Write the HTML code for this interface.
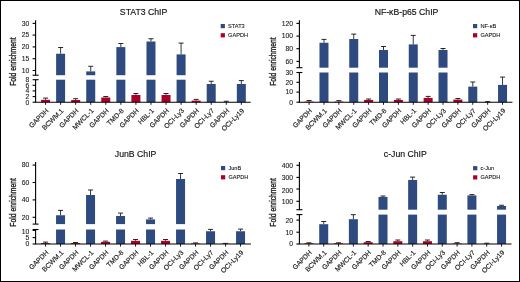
<!DOCTYPE html>
<html><head><meta charset="utf-8"><style>
html,body{margin:0;padding:0;background:#fff;}
svg{display:block;}
text{font-family:"Liberation Sans", sans-serif;fill:#1a1a1a;}
svg{will-change:transform;}
</style></head><body>
<svg width="520" height="282" viewBox="0 0 520 282">
<rect x="0" y="0" width="520" height="282" fill="#fff"/>
<line x1="45.55" y1="98.1" x2="45.55" y2="99.8" stroke="#222" stroke-width="0.9"/>
<line x1="43.05" y1="98.1" x2="48.05" y2="98.1" stroke="#111" stroke-width="0.9"/>
<rect x="41.05" y="99.8" width="9" height="2.4" fill="#a8002a"/>
<line x1="60.61" y1="47.5" x2="60.61" y2="53.75" stroke="#222" stroke-width="0.9"/>
<line x1="58.11" y1="47.5" x2="63.11" y2="47.5" stroke="#111" stroke-width="0.9"/>
<rect x="56.11" y="79.7" width="9" height="22.5" fill="#2e4a7e"/>
<rect x="56.11" y="53.75" width="9" height="21.45" fill="#2e4a7e"/>
<line x1="75.67" y1="98.7" x2="75.67" y2="100" stroke="#222" stroke-width="0.9"/>
<line x1="73.17" y1="98.7" x2="78.17" y2="98.7" stroke="#111" stroke-width="0.9"/>
<rect x="71.17" y="100" width="9" height="2.2" fill="#a8002a"/>
<line x1="90.73" y1="66.3" x2="90.73" y2="71.4" stroke="#222" stroke-width="0.9"/>
<line x1="88.23" y1="66.3" x2="93.23" y2="66.3" stroke="#111" stroke-width="0.9"/>
<rect x="86.23" y="79.7" width="9" height="22.5" fill="#2e4a7e"/>
<rect x="86.23" y="71.4" width="9" height="3.8" fill="#2e4a7e"/>
<line x1="105.79" y1="96.5" x2="105.79" y2="97.5" stroke="#222" stroke-width="0.9"/>
<line x1="103.29" y1="96.5" x2="108.29" y2="96.5" stroke="#111" stroke-width="0.9"/>
<rect x="101.29" y="97.5" width="9" height="4.7" fill="#a8002a"/>
<line x1="120.85" y1="43.5" x2="120.85" y2="47.1" stroke="#222" stroke-width="0.9"/>
<line x1="118.35" y1="43.5" x2="123.35" y2="43.5" stroke="#111" stroke-width="0.9"/>
<rect x="116.35" y="79.7" width="9" height="22.5" fill="#2e4a7e"/>
<rect x="116.35" y="47.1" width="9" height="28.1" fill="#2e4a7e"/>
<line x1="135.91" y1="93.5" x2="135.91" y2="95" stroke="#222" stroke-width="0.9"/>
<line x1="133.41" y1="93.5" x2="138.41" y2="93.5" stroke="#111" stroke-width="0.9"/>
<rect x="131.41" y="95" width="9" height="7.2" fill="#a8002a"/>
<line x1="150.97" y1="38.75" x2="150.97" y2="41.5" stroke="#222" stroke-width="0.9"/>
<line x1="148.47" y1="38.75" x2="153.47" y2="38.75" stroke="#111" stroke-width="0.9"/>
<rect x="146.47" y="79.7" width="9" height="22.5" fill="#2e4a7e"/>
<rect x="146.47" y="41.5" width="9" height="33.7" fill="#2e4a7e"/>
<line x1="166.03" y1="93.5" x2="166.03" y2="95" stroke="#222" stroke-width="0.9"/>
<line x1="163.53" y1="93.5" x2="168.53" y2="93.5" stroke="#111" stroke-width="0.9"/>
<rect x="161.53" y="95" width="9" height="7.2" fill="#a8002a"/>
<line x1="181.09" y1="43.1" x2="181.09" y2="54.4" stroke="#222" stroke-width="0.9"/>
<line x1="178.59" y1="43.1" x2="183.59" y2="43.1" stroke="#111" stroke-width="0.9"/>
<rect x="176.59" y="79.7" width="9" height="22.5" fill="#2e4a7e"/>
<rect x="176.59" y="54.4" width="9" height="20.8" fill="#2e4a7e"/>
<line x1="196.15" y1="99.4" x2="196.15" y2="100.6" stroke="#222" stroke-width="0.9"/>
<line x1="193.65" y1="99.4" x2="198.65" y2="99.4" stroke="#111" stroke-width="0.9"/>
<rect x="191.65" y="100.6" width="9" height="1.6" fill="#a8002a"/>
<line x1="211.21" y1="81.25" x2="211.21" y2="84" stroke="#222" stroke-width="0.9"/>
<line x1="208.71" y1="81.25" x2="213.71" y2="81.25" stroke="#111" stroke-width="0.9"/>
<rect x="206.71" y="84" width="9" height="18.2" fill="#2e4a7e"/>
<line x1="226.27" y1="101.25" x2="226.27" y2="102.2" stroke="#222" stroke-width="0.9"/>
<line x1="223.77" y1="101.25" x2="228.77" y2="101.25" stroke="#111" stroke-width="0.9"/>
<line x1="241.33" y1="80.6" x2="241.33" y2="84" stroke="#222" stroke-width="0.9"/>
<line x1="238.83" y1="80.6" x2="243.83" y2="80.6" stroke="#111" stroke-width="0.9"/>
<rect x="236.83" y="84" width="9" height="18.2" fill="#2e4a7e"/>
<line x1="35.6" y1="20.3" x2="35.6" y2="75.2" stroke="#000" stroke-width="1.1"/>
<line x1="35.6" y1="79.7" x2="35.6" y2="102.2" stroke="#000" stroke-width="1.1"/>
<line x1="32.6" y1="75.2" x2="38.6" y2="75.2" stroke="#000" stroke-width="1.1"/>
<line x1="32.6" y1="79.7" x2="38.6" y2="79.7" stroke="#000" stroke-width="1.1"/>
<line x1="35.05" y1="102.2" x2="250.6" y2="102.2" stroke="#000" stroke-width="1.1"/>
<line x1="32.6" y1="23.4" x2="35.6" y2="23.4" stroke="#000" stroke-width="1.1"/>
<line x1="32.6" y1="35.1" x2="35.6" y2="35.1" stroke="#000" stroke-width="1.1"/>
<line x1="32.6" y1="46.9" x2="35.6" y2="46.9" stroke="#000" stroke-width="1.1"/>
<line x1="32.6" y1="58.7" x2="35.6" y2="58.7" stroke="#000" stroke-width="1.1"/>
<line x1="32.6" y1="70.5" x2="35.6" y2="70.5" stroke="#000" stroke-width="1.1"/>
<line x1="32.6" y1="85.3" x2="35.6" y2="85.3" stroke="#000" stroke-width="1.1"/>
<line x1="32.6" y1="90.9" x2="35.6" y2="90.9" stroke="#000" stroke-width="1.1"/>
<line x1="32.6" y1="96.6" x2="35.6" y2="96.6" stroke="#000" stroke-width="1.1"/>
<line x1="32.6" y1="102.2" x2="35.6" y2="102.2" stroke="#000" stroke-width="1.1"/>
<text transform="translate(29.2 25.7) scale(1.06 1)" font-size="6.4" stroke="#1a1a1a" stroke-width="0.1" text-anchor="end">30</text>
<text transform="translate(29.2 37.4) scale(1.06 1)" font-size="6.4" stroke="#1a1a1a" stroke-width="0.1" text-anchor="end">25</text>
<text transform="translate(29.2 49.2) scale(1.06 1)" font-size="6.4" stroke="#1a1a1a" stroke-width="0.1" text-anchor="end">20</text>
<text transform="translate(29.2 61) scale(1.06 1)" font-size="6.4" stroke="#1a1a1a" stroke-width="0.1" text-anchor="end">15</text>
<text transform="translate(29.2 72.8) scale(1.06 1)" font-size="6.4" stroke="#1a1a1a" stroke-width="0.1" text-anchor="end">10</text>
<text transform="translate(29.2 87.6) scale(1.06 1)" font-size="6.4" stroke="#1a1a1a" stroke-width="0.1" text-anchor="end">6</text>
<text transform="translate(29.2 93.2) scale(1.06 1)" font-size="6.4" stroke="#1a1a1a" stroke-width="0.1" text-anchor="end">4</text>
<text transform="translate(29.2 98.9) scale(1.06 1)" font-size="6.4" stroke="#1a1a1a" stroke-width="0.1" text-anchor="end">2</text>
<text transform="translate(29.2 104.5) scale(1.06 1)" font-size="6.4" stroke="#1a1a1a" stroke-width="0.1" text-anchor="end">0</text>
<text transform="translate(29.2 82) scale(1.06 1)" font-size="6.4" stroke="#1a1a1a" stroke-width="0.1" text-anchor="end">8</text>
<line x1="45.55" y1="102.2" x2="45.55" y2="104.8" stroke="#000" stroke-width="0.9"/>
<text x="48.95" y="111.2" font-size="6.8" stroke="#1a1a1a" stroke-width="0.15" text-anchor="end" transform="rotate(-45 48.95 111.2)">GAPDH</text>
<line x1="60.61" y1="102.2" x2="60.61" y2="104.8" stroke="#000" stroke-width="0.9"/>
<text x="64.01" y="111.2" font-size="6.8" stroke="#1a1a1a" stroke-width="0.15" text-anchor="end" transform="rotate(-45 64.01 111.2)">BCWM.1</text>
<line x1="75.67" y1="102.2" x2="75.67" y2="104.8" stroke="#000" stroke-width="0.9"/>
<text x="79.07" y="111.2" font-size="6.8" stroke="#1a1a1a" stroke-width="0.15" text-anchor="end" transform="rotate(-45 79.07 111.2)">GAPDH</text>
<line x1="90.73" y1="102.2" x2="90.73" y2="104.8" stroke="#000" stroke-width="0.9"/>
<text x="94.13" y="111.2" font-size="6.8" stroke="#1a1a1a" stroke-width="0.15" text-anchor="end" transform="rotate(-45 94.13 111.2)">MWCL-1</text>
<line x1="105.79" y1="102.2" x2="105.79" y2="104.8" stroke="#000" stroke-width="0.9"/>
<text x="109.19" y="111.2" font-size="6.8" stroke="#1a1a1a" stroke-width="0.15" text-anchor="end" transform="rotate(-45 109.19 111.2)">GAPDH</text>
<line x1="120.85" y1="102.2" x2="120.85" y2="104.8" stroke="#000" stroke-width="0.9"/>
<text x="124.25" y="111.2" font-size="6.8" stroke="#1a1a1a" stroke-width="0.15" text-anchor="end" transform="rotate(-45 124.25 111.2)">TMD-8</text>
<line x1="135.91" y1="102.2" x2="135.91" y2="104.8" stroke="#000" stroke-width="0.9"/>
<text x="139.31" y="111.2" font-size="6.8" stroke="#1a1a1a" stroke-width="0.15" text-anchor="end" transform="rotate(-45 139.31 111.2)">GAPDH</text>
<line x1="150.97" y1="102.2" x2="150.97" y2="104.8" stroke="#000" stroke-width="0.9"/>
<text x="154.37" y="111.2" font-size="6.8" stroke="#1a1a1a" stroke-width="0.15" text-anchor="end" transform="rotate(-45 154.37 111.2)">HBL-1</text>
<line x1="166.03" y1="102.2" x2="166.03" y2="104.8" stroke="#000" stroke-width="0.9"/>
<text x="169.43" y="111.2" font-size="6.8" stroke="#1a1a1a" stroke-width="0.15" text-anchor="end" transform="rotate(-45 169.43 111.2)">GAPDH</text>
<line x1="181.09" y1="102.2" x2="181.09" y2="104.8" stroke="#000" stroke-width="0.9"/>
<text x="184.49" y="111.2" font-size="6.8" stroke="#1a1a1a" stroke-width="0.15" text-anchor="end" transform="rotate(-45 184.49 111.2)">OCI-Ly3</text>
<line x1="196.15" y1="102.2" x2="196.15" y2="104.8" stroke="#000" stroke-width="0.9"/>
<text x="199.55" y="111.2" font-size="6.8" stroke="#1a1a1a" stroke-width="0.15" text-anchor="end" transform="rotate(-45 199.55 111.2)">GAPDH</text>
<line x1="211.21" y1="102.2" x2="211.21" y2="104.8" stroke="#000" stroke-width="0.9"/>
<text x="214.61" y="111.2" font-size="6.8" stroke="#1a1a1a" stroke-width="0.15" text-anchor="end" transform="rotate(-45 214.61 111.2)">OCI-Ly7</text>
<line x1="226.27" y1="102.2" x2="226.27" y2="104.8" stroke="#000" stroke-width="0.9"/>
<text x="229.67" y="111.2" font-size="6.8" stroke="#1a1a1a" stroke-width="0.15" text-anchor="end" transform="rotate(-45 229.67 111.2)">GAPDH</text>
<line x1="241.33" y1="102.2" x2="241.33" y2="104.8" stroke="#000" stroke-width="0.9"/>
<text x="244.73" y="111.2" font-size="6.8" stroke="#1a1a1a" stroke-width="0.15" text-anchor="end" transform="rotate(-45 244.73 111.2)">OCI-Ly19</text>
<text x="143.6" y="15.2" font-size="8.7" text-anchor="middle" fill="#000" stroke="#000" stroke-width="0.15">STAT3 ChIP</text>
<rect x="220.7" y="24" width="4.2" height="4.2" fill="#2e4a7e"/>
<rect x="220.7" y="33.2" width="4.2" height="4.2" fill="#a8002a"/>
<text x="228.1" y="28.1" font-size="5.6" stroke="#1a1a1a" stroke-width="0.1">STAT3</text>
<text x="228.1" y="37.3" font-size="5.6" stroke="#1a1a1a" stroke-width="0.1">GAPDH</text>
<text x="15.74" y="61.6" font-size="9.0" stroke="#1a1a1a" stroke-width="0.35" text-anchor="middle" textLength="48.5" lengthAdjust="spacingAndGlyphs" transform="rotate(-90 15.74 61.6)">Fold enrichment</text>
<line x1="309.1" y1="100.5" x2="309.1" y2="101.6" stroke="#222" stroke-width="0.9"/>
<line x1="306.6" y1="100.5" x2="311.6" y2="100.5" stroke="#111" stroke-width="0.9"/>
<rect x="304.6" y="101.6" width="9" height="0.6" fill="#a8002a"/>
<line x1="323.98" y1="39.4" x2="323.98" y2="42.75" stroke="#222" stroke-width="0.9"/>
<line x1="321.48" y1="39.4" x2="326.48" y2="39.4" stroke="#111" stroke-width="0.9"/>
<rect x="319.48" y="72.5" width="9" height="29.7" fill="#2e4a7e"/>
<rect x="319.48" y="42.75" width="9" height="24.95" fill="#2e4a7e"/>
<line x1="338.86" y1="100.6" x2="338.86" y2="101.6" stroke="#222" stroke-width="0.9"/>
<line x1="336.36" y1="100.6" x2="341.36" y2="100.6" stroke="#111" stroke-width="0.9"/>
<rect x="334.36" y="101.6" width="9" height="0.6" fill="#a8002a"/>
<line x1="353.74" y1="34.1" x2="353.74" y2="39" stroke="#222" stroke-width="0.9"/>
<line x1="351.24" y1="34.1" x2="356.24" y2="34.1" stroke="#111" stroke-width="0.9"/>
<rect x="349.24" y="72.5" width="9" height="29.7" fill="#2e4a7e"/>
<rect x="349.24" y="39" width="9" height="28.7" fill="#2e4a7e"/>
<line x1="368.62" y1="99" x2="368.62" y2="99.9" stroke="#222" stroke-width="0.9"/>
<line x1="366.12" y1="99" x2="371.12" y2="99" stroke="#111" stroke-width="0.9"/>
<rect x="364.12" y="99.9" width="9" height="2.3" fill="#a8002a"/>
<line x1="383.5" y1="46.5" x2="383.5" y2="50" stroke="#222" stroke-width="0.9"/>
<line x1="381" y1="46.5" x2="386" y2="46.5" stroke="#111" stroke-width="0.9"/>
<rect x="379" y="72.5" width="9" height="29.7" fill="#2e4a7e"/>
<rect x="379" y="50" width="9" height="17.7" fill="#2e4a7e"/>
<line x1="398.38" y1="99" x2="398.38" y2="99.9" stroke="#222" stroke-width="0.9"/>
<line x1="395.88" y1="99" x2="400.88" y2="99" stroke="#111" stroke-width="0.9"/>
<rect x="393.88" y="99.9" width="9" height="2.3" fill="#a8002a"/>
<line x1="413.26" y1="35.4" x2="413.26" y2="44.4" stroke="#222" stroke-width="0.9"/>
<line x1="410.76" y1="35.4" x2="415.76" y2="35.4" stroke="#111" stroke-width="0.9"/>
<rect x="408.76" y="72.5" width="9" height="29.7" fill="#2e4a7e"/>
<rect x="408.76" y="44.4" width="9" height="23.3" fill="#2e4a7e"/>
<line x1="428.14" y1="96.4" x2="428.14" y2="97.9" stroke="#222" stroke-width="0.9"/>
<line x1="425.64" y1="96.4" x2="430.64" y2="96.4" stroke="#111" stroke-width="0.9"/>
<rect x="423.64" y="97.9" width="9" height="4.3" fill="#a8002a"/>
<line x1="443.02" y1="48.5" x2="443.02" y2="50" stroke="#222" stroke-width="0.9"/>
<line x1="440.52" y1="48.5" x2="445.52" y2="48.5" stroke="#111" stroke-width="0.9"/>
<rect x="438.52" y="72.5" width="9" height="29.7" fill="#2e4a7e"/>
<rect x="438.52" y="50" width="9" height="17.7" fill="#2e4a7e"/>
<line x1="457.9" y1="98.5" x2="457.9" y2="99.6" stroke="#222" stroke-width="0.9"/>
<line x1="455.4" y1="98.5" x2="460.4" y2="98.5" stroke="#111" stroke-width="0.9"/>
<rect x="453.4" y="99.6" width="9" height="2.6" fill="#a8002a"/>
<line x1="472.78" y1="82" x2="472.78" y2="86.6" stroke="#222" stroke-width="0.9"/>
<line x1="470.28" y1="82" x2="475.28" y2="82" stroke="#111" stroke-width="0.9"/>
<rect x="468.28" y="86.6" width="9" height="15.6" fill="#2e4a7e"/>
<line x1="487.66" y1="101.6" x2="487.66" y2="102.1" stroke="#222" stroke-width="0.9"/>
<line x1="485.16" y1="101.6" x2="490.16" y2="101.6" stroke="#111" stroke-width="0.9"/>
<rect x="483.16" y="102.1" width="9" height="0.1" fill="#a8002a"/>
<line x1="502.54" y1="77.1" x2="502.54" y2="84.9" stroke="#222" stroke-width="0.9"/>
<line x1="500.04" y1="77.1" x2="505.04" y2="77.1" stroke="#111" stroke-width="0.9"/>
<rect x="498.04" y="84.9" width="9" height="17.3" fill="#2e4a7e"/>
<line x1="299.4" y1="20.3" x2="299.4" y2="67.7" stroke="#000" stroke-width="1.1"/>
<line x1="299.4" y1="72.5" x2="299.4" y2="102.2" stroke="#000" stroke-width="1.1"/>
<line x1="296.4" y1="67.7" x2="302.4" y2="67.7" stroke="#000" stroke-width="1.1"/>
<line x1="296.4" y1="72.5" x2="302.4" y2="72.5" stroke="#000" stroke-width="1.1"/>
<line x1="298.85" y1="102.2" x2="512.4" y2="102.2" stroke="#000" stroke-width="1.1"/>
<line x1="296.4" y1="23.4" x2="299.4" y2="23.4" stroke="#000" stroke-width="1.1"/>
<line x1="296.4" y1="36.1" x2="299.4" y2="36.1" stroke="#000" stroke-width="1.1"/>
<line x1="296.4" y1="48.7" x2="299.4" y2="48.7" stroke="#000" stroke-width="1.1"/>
<line x1="296.4" y1="61.4" x2="299.4" y2="61.4" stroke="#000" stroke-width="1.1"/>
<line x1="296.4" y1="82.3" x2="299.4" y2="82.3" stroke="#000" stroke-width="1.1"/>
<line x1="296.4" y1="92.1" x2="299.4" y2="92.1" stroke="#000" stroke-width="1.1"/>
<line x1="296.4" y1="102.2" x2="299.4" y2="102.2" stroke="#000" stroke-width="1.1"/>
<text transform="translate(293 25.7) scale(1.06 1)" font-size="6.4" stroke="#1a1a1a" stroke-width="0.1" text-anchor="end">120</text>
<text transform="translate(293 38.4) scale(1.06 1)" font-size="6.4" stroke="#1a1a1a" stroke-width="0.1" text-anchor="end">100</text>
<text transform="translate(293 51) scale(1.06 1)" font-size="6.4" stroke="#1a1a1a" stroke-width="0.1" text-anchor="end">80</text>
<text transform="translate(293 63.7) scale(1.06 1)" font-size="6.4" stroke="#1a1a1a" stroke-width="0.1" text-anchor="end">60</text>
<text transform="translate(293 84.6) scale(1.06 1)" font-size="6.4" stroke="#1a1a1a" stroke-width="0.1" text-anchor="end">20</text>
<text transform="translate(293 94.4) scale(1.06 1)" font-size="6.4" stroke="#1a1a1a" stroke-width="0.1" text-anchor="end">10</text>
<text transform="translate(293 104.5) scale(1.06 1)" font-size="6.4" stroke="#1a1a1a" stroke-width="0.1" text-anchor="end">0</text>
<text transform="translate(293 74.8) scale(1.06 1)" font-size="6.4" stroke="#1a1a1a" stroke-width="0.1" text-anchor="end">30</text>
<line x1="309.1" y1="102.2" x2="309.1" y2="104.8" stroke="#000" stroke-width="0.9"/>
<text x="312.5" y="111.2" font-size="6.8" stroke="#1a1a1a" stroke-width="0.15" text-anchor="end" transform="rotate(-45 312.5 111.2)">GAPDH</text>
<line x1="323.98" y1="102.2" x2="323.98" y2="104.8" stroke="#000" stroke-width="0.9"/>
<text x="327.38" y="111.2" font-size="6.8" stroke="#1a1a1a" stroke-width="0.15" text-anchor="end" transform="rotate(-45 327.38 111.2)">BCWM.1</text>
<line x1="338.86" y1="102.2" x2="338.86" y2="104.8" stroke="#000" stroke-width="0.9"/>
<text x="342.26" y="111.2" font-size="6.8" stroke="#1a1a1a" stroke-width="0.15" text-anchor="end" transform="rotate(-45 342.26 111.2)">GAPDH</text>
<line x1="353.74" y1="102.2" x2="353.74" y2="104.8" stroke="#000" stroke-width="0.9"/>
<text x="357.14" y="111.2" font-size="6.8" stroke="#1a1a1a" stroke-width="0.15" text-anchor="end" transform="rotate(-45 357.14 111.2)">MWCL-1</text>
<line x1="368.62" y1="102.2" x2="368.62" y2="104.8" stroke="#000" stroke-width="0.9"/>
<text x="372.02" y="111.2" font-size="6.8" stroke="#1a1a1a" stroke-width="0.15" text-anchor="end" transform="rotate(-45 372.02 111.2)">GAPDH</text>
<line x1="383.5" y1="102.2" x2="383.5" y2="104.8" stroke="#000" stroke-width="0.9"/>
<text x="386.9" y="111.2" font-size="6.8" stroke="#1a1a1a" stroke-width="0.15" text-anchor="end" transform="rotate(-45 386.9 111.2)">TMD-8</text>
<line x1="398.38" y1="102.2" x2="398.38" y2="104.8" stroke="#000" stroke-width="0.9"/>
<text x="401.78" y="111.2" font-size="6.8" stroke="#1a1a1a" stroke-width="0.15" text-anchor="end" transform="rotate(-45 401.78 111.2)">GAPDH</text>
<line x1="413.26" y1="102.2" x2="413.26" y2="104.8" stroke="#000" stroke-width="0.9"/>
<text x="416.66" y="111.2" font-size="6.8" stroke="#1a1a1a" stroke-width="0.15" text-anchor="end" transform="rotate(-45 416.66 111.2)">HBL-1</text>
<line x1="428.14" y1="102.2" x2="428.14" y2="104.8" stroke="#000" stroke-width="0.9"/>
<text x="431.54" y="111.2" font-size="6.8" stroke="#1a1a1a" stroke-width="0.15" text-anchor="end" transform="rotate(-45 431.54 111.2)">GAPDH</text>
<line x1="443.02" y1="102.2" x2="443.02" y2="104.8" stroke="#000" stroke-width="0.9"/>
<text x="446.42" y="111.2" font-size="6.8" stroke="#1a1a1a" stroke-width="0.15" text-anchor="end" transform="rotate(-45 446.42 111.2)">OCI-Ly3</text>
<line x1="457.9" y1="102.2" x2="457.9" y2="104.8" stroke="#000" stroke-width="0.9"/>
<text x="461.3" y="111.2" font-size="6.8" stroke="#1a1a1a" stroke-width="0.15" text-anchor="end" transform="rotate(-45 461.3 111.2)">GAPDH</text>
<line x1="472.78" y1="102.2" x2="472.78" y2="104.8" stroke="#000" stroke-width="0.9"/>
<text x="476.18" y="111.2" font-size="6.8" stroke="#1a1a1a" stroke-width="0.15" text-anchor="end" transform="rotate(-45 476.18 111.2)">OCI-Ly7</text>
<line x1="487.66" y1="102.2" x2="487.66" y2="104.8" stroke="#000" stroke-width="0.9"/>
<text x="491.06" y="111.2" font-size="6.8" stroke="#1a1a1a" stroke-width="0.15" text-anchor="end" transform="rotate(-45 491.06 111.2)">GAPDH</text>
<line x1="502.54" y1="102.2" x2="502.54" y2="104.8" stroke="#000" stroke-width="0.9"/>
<text x="505.94" y="111.2" font-size="6.8" stroke="#1a1a1a" stroke-width="0.15" text-anchor="end" transform="rotate(-45 505.94 111.2)">OCI-Ly19</text>
<text x="406.5" y="15.2" font-size="8.7" text-anchor="middle" fill="#000" stroke="#000" stroke-width="0.15">NF-κB-p65 ChIP</text>
<rect x="473" y="24" width="4.2" height="4.2" fill="#2e4a7e"/>
<rect x="473" y="33.2" width="4.2" height="4.2" fill="#a8002a"/>
<text x="480.4" y="28.1" font-size="5.6" stroke="#1a1a1a" stroke-width="0.1">NF-κB</text>
<text x="480.4" y="37.3" font-size="5.6" stroke="#1a1a1a" stroke-width="0.1">GAPDH</text>
<text x="275.74" y="61.6" font-size="9.0" stroke="#1a1a1a" stroke-width="0.35" text-anchor="middle" textLength="48.5" lengthAdjust="spacingAndGlyphs" transform="rotate(-90 275.74 61.6)">Fold enrichment</text>
<line x1="45.55" y1="242.1" x2="45.55" y2="243.1" stroke="#222" stroke-width="0.9"/>
<line x1="43.05" y1="242.1" x2="48.05" y2="242.1" stroke="#111" stroke-width="0.9"/>
<rect x="41.05" y="243.1" width="9" height="0.9" fill="#a8002a"/>
<line x1="60.55" y1="210.4" x2="60.55" y2="215.25" stroke="#222" stroke-width="0.9"/>
<line x1="58.05" y1="210.4" x2="63.05" y2="210.4" stroke="#111" stroke-width="0.9"/>
<rect x="56.05" y="229.5" width="9" height="14.5" fill="#2e4a7e"/>
<rect x="56.05" y="215.25" width="9" height="8.85" fill="#2e4a7e"/>
<line x1="75.55" y1="242.5" x2="75.55" y2="243.1" stroke="#222" stroke-width="0.9"/>
<line x1="73.05" y1="242.5" x2="78.05" y2="242.5" stroke="#111" stroke-width="0.9"/>
<rect x="71.05" y="243.1" width="9" height="0.9" fill="#a8002a"/>
<line x1="90.55" y1="190" x2="90.55" y2="195" stroke="#222" stroke-width="0.9"/>
<line x1="88.05" y1="190" x2="93.05" y2="190" stroke="#111" stroke-width="0.9"/>
<rect x="86.05" y="229.5" width="9" height="14.5" fill="#2e4a7e"/>
<rect x="86.05" y="195" width="9" height="29.1" fill="#2e4a7e"/>
<line x1="105.55" y1="241.1" x2="105.55" y2="241.8" stroke="#222" stroke-width="0.9"/>
<line x1="103.05" y1="241.1" x2="108.05" y2="241.1" stroke="#111" stroke-width="0.9"/>
<rect x="101.05" y="241.8" width="9" height="2.2" fill="#a8002a"/>
<line x1="120.55" y1="213.1" x2="120.55" y2="216" stroke="#222" stroke-width="0.9"/>
<line x1="118.05" y1="213.1" x2="123.05" y2="213.1" stroke="#111" stroke-width="0.9"/>
<rect x="116.05" y="229.5" width="9" height="14.5" fill="#2e4a7e"/>
<rect x="116.05" y="216" width="9" height="8.1" fill="#2e4a7e"/>
<line x1="135.55" y1="239.5" x2="135.55" y2="240.8" stroke="#222" stroke-width="0.9"/>
<line x1="133.05" y1="239.5" x2="138.05" y2="239.5" stroke="#111" stroke-width="0.9"/>
<rect x="131.05" y="240.8" width="9" height="3.2" fill="#a8002a"/>
<line x1="150.55" y1="218.1" x2="150.55" y2="219.4" stroke="#222" stroke-width="0.9"/>
<line x1="148.05" y1="218.1" x2="153.05" y2="218.1" stroke="#111" stroke-width="0.9"/>
<rect x="146.05" y="229.5" width="9" height="14.5" fill="#2e4a7e"/>
<rect x="146.05" y="219.4" width="9" height="4.7" fill="#2e4a7e"/>
<line x1="165.55" y1="239.5" x2="165.55" y2="240.8" stroke="#222" stroke-width="0.9"/>
<line x1="163.05" y1="239.5" x2="168.05" y2="239.5" stroke="#111" stroke-width="0.9"/>
<rect x="161.05" y="240.8" width="9" height="3.2" fill="#a8002a"/>
<line x1="180.55" y1="173.5" x2="180.55" y2="179" stroke="#222" stroke-width="0.9"/>
<line x1="178.05" y1="173.5" x2="183.05" y2="173.5" stroke="#111" stroke-width="0.9"/>
<rect x="176.05" y="229.5" width="9" height="14.5" fill="#2e4a7e"/>
<rect x="176.05" y="179" width="9" height="45.1" fill="#2e4a7e"/>
<line x1="195.55" y1="242.9" x2="195.55" y2="243.5" stroke="#222" stroke-width="0.9"/>
<line x1="193.05" y1="242.9" x2="198.05" y2="242.9" stroke="#111" stroke-width="0.9"/>
<rect x="191.05" y="243.5" width="9" height="0.5" fill="#a8002a"/>
<line x1="210.55" y1="229.4" x2="210.55" y2="231.25" stroke="#222" stroke-width="0.9"/>
<line x1="208.05" y1="229.4" x2="213.05" y2="229.4" stroke="#111" stroke-width="0.9"/>
<rect x="206.05" y="231.25" width="9" height="12.75" fill="#2e4a7e"/>
<line x1="225.55" y1="243.4" x2="225.55" y2="243.8" stroke="#222" stroke-width="0.9"/>
<line x1="223.05" y1="243.4" x2="228.05" y2="243.4" stroke="#111" stroke-width="0.9"/>
<rect x="221.05" y="243.8" width="9" height="0.2" fill="#a8002a"/>
<line x1="240.55" y1="229.1" x2="240.55" y2="231.25" stroke="#222" stroke-width="0.9"/>
<line x1="238.05" y1="229.1" x2="243.05" y2="229.1" stroke="#111" stroke-width="0.9"/>
<rect x="236.05" y="231.25" width="9" height="12.75" fill="#2e4a7e"/>
<line x1="35.6" y1="162" x2="35.6" y2="224.1" stroke="#000" stroke-width="1.1"/>
<line x1="35.6" y1="229.5" x2="35.6" y2="244" stroke="#000" stroke-width="1.1"/>
<line x1="32.6" y1="224.1" x2="38.6" y2="224.1" stroke="#000" stroke-width="1.1"/>
<line x1="32.6" y1="229.5" x2="38.6" y2="229.5" stroke="#000" stroke-width="1.1"/>
<line x1="35.05" y1="244" x2="250.9" y2="244" stroke="#000" stroke-width="1.1"/>
<line x1="32.6" y1="165.1" x2="35.6" y2="165.1" stroke="#000" stroke-width="1.1"/>
<line x1="32.6" y1="182.5" x2="35.6" y2="182.5" stroke="#000" stroke-width="1.1"/>
<line x1="32.6" y1="199.9" x2="35.6" y2="199.9" stroke="#000" stroke-width="1.1"/>
<line x1="32.6" y1="217.3" x2="35.6" y2="217.3" stroke="#000" stroke-width="1.1"/>
<line x1="32.6" y1="230.4" x2="35.6" y2="230.4" stroke="#000" stroke-width="1.1"/>
<line x1="32.6" y1="237.6" x2="35.6" y2="237.6" stroke="#000" stroke-width="1.1"/>
<line x1="32.6" y1="244" x2="35.6" y2="244" stroke="#000" stroke-width="1.1"/>
<text transform="translate(29.2 167.4) scale(1.06 1)" font-size="6.4" stroke="#1a1a1a" stroke-width="0.1" text-anchor="end">80</text>
<text transform="translate(29.2 184.8) scale(1.06 1)" font-size="6.4" stroke="#1a1a1a" stroke-width="0.1" text-anchor="end">60</text>
<text transform="translate(29.2 202.2) scale(1.06 1)" font-size="6.4" stroke="#1a1a1a" stroke-width="0.1" text-anchor="end">40</text>
<text transform="translate(29.2 219.6) scale(1.06 1)" font-size="6.4" stroke="#1a1a1a" stroke-width="0.1" text-anchor="end">20</text>
<text transform="translate(29.2 233.6) scale(1.06 1)" font-size="6.4" stroke="#1a1a1a" stroke-width="0.1" text-anchor="end">10</text>
<text transform="translate(29.2 239.9) scale(1.06 1)" font-size="6.4" stroke="#1a1a1a" stroke-width="0.1" text-anchor="end">5</text>
<text transform="translate(29.2 246.3) scale(1.06 1)" font-size="6.4" stroke="#1a1a1a" stroke-width="0.1" text-anchor="end">0</text>
<line x1="45.55" y1="244" x2="45.55" y2="246.6" stroke="#000" stroke-width="0.9"/>
<text x="48.95" y="253" font-size="6.8" stroke="#1a1a1a" stroke-width="0.15" text-anchor="end" transform="rotate(-45 48.95 253)">GAPDH</text>
<line x1="60.55" y1="244" x2="60.55" y2="246.6" stroke="#000" stroke-width="0.9"/>
<text x="63.95" y="253" font-size="6.8" stroke="#1a1a1a" stroke-width="0.15" text-anchor="end" transform="rotate(-45 63.95 253)">BCWM.1</text>
<line x1="75.55" y1="244" x2="75.55" y2="246.6" stroke="#000" stroke-width="0.9"/>
<text x="78.95" y="253" font-size="6.8" stroke="#1a1a1a" stroke-width="0.15" text-anchor="end" transform="rotate(-45 78.95 253)">GAPDH</text>
<line x1="90.55" y1="244" x2="90.55" y2="246.6" stroke="#000" stroke-width="0.9"/>
<text x="93.95" y="253" font-size="6.8" stroke="#1a1a1a" stroke-width="0.15" text-anchor="end" transform="rotate(-45 93.95 253)">MWCL-1</text>
<line x1="105.55" y1="244" x2="105.55" y2="246.6" stroke="#000" stroke-width="0.9"/>
<text x="108.95" y="253" font-size="6.8" stroke="#1a1a1a" stroke-width="0.15" text-anchor="end" transform="rotate(-45 108.95 253)">GAPDH</text>
<line x1="120.55" y1="244" x2="120.55" y2="246.6" stroke="#000" stroke-width="0.9"/>
<text x="123.95" y="253" font-size="6.8" stroke="#1a1a1a" stroke-width="0.15" text-anchor="end" transform="rotate(-45 123.95 253)">TMD-8</text>
<line x1="135.55" y1="244" x2="135.55" y2="246.6" stroke="#000" stroke-width="0.9"/>
<text x="138.95" y="253" font-size="6.8" stroke="#1a1a1a" stroke-width="0.15" text-anchor="end" transform="rotate(-45 138.95 253)">GAPDH</text>
<line x1="150.55" y1="244" x2="150.55" y2="246.6" stroke="#000" stroke-width="0.9"/>
<text x="153.95" y="253" font-size="6.8" stroke="#1a1a1a" stroke-width="0.15" text-anchor="end" transform="rotate(-45 153.95 253)">HBL-1</text>
<line x1="165.55" y1="244" x2="165.55" y2="246.6" stroke="#000" stroke-width="0.9"/>
<text x="168.95" y="253" font-size="6.8" stroke="#1a1a1a" stroke-width="0.15" text-anchor="end" transform="rotate(-45 168.95 253)">GAPDH</text>
<line x1="180.55" y1="244" x2="180.55" y2="246.6" stroke="#000" stroke-width="0.9"/>
<text x="183.95" y="253" font-size="6.8" stroke="#1a1a1a" stroke-width="0.15" text-anchor="end" transform="rotate(-45 183.95 253)">OCI-Ly3</text>
<line x1="195.55" y1="244" x2="195.55" y2="246.6" stroke="#000" stroke-width="0.9"/>
<text x="198.95" y="253" font-size="6.8" stroke="#1a1a1a" stroke-width="0.15" text-anchor="end" transform="rotate(-45 198.95 253)">GAPDH</text>
<line x1="210.55" y1="244" x2="210.55" y2="246.6" stroke="#000" stroke-width="0.9"/>
<text x="213.95" y="253" font-size="6.8" stroke="#1a1a1a" stroke-width="0.15" text-anchor="end" transform="rotate(-45 213.95 253)">OCI-Ly7</text>
<line x1="225.55" y1="244" x2="225.55" y2="246.6" stroke="#000" stroke-width="0.9"/>
<text x="228.95" y="253" font-size="6.8" stroke="#1a1a1a" stroke-width="0.15" text-anchor="end" transform="rotate(-45 228.95 253)">GAPDH</text>
<line x1="240.55" y1="244" x2="240.55" y2="246.6" stroke="#000" stroke-width="0.9"/>
<text x="243.95" y="253" font-size="6.8" stroke="#1a1a1a" stroke-width="0.15" text-anchor="end" transform="rotate(-45 243.95 253)">OCI-Ly19</text>
<text x="135.6" y="157.1" font-size="8.7" text-anchor="middle" fill="#000" stroke="#000" stroke-width="0.15">JunB ChIP</text>
<rect x="221" y="166" width="4.2" height="4.2" fill="#2e4a7e"/>
<rect x="221" y="175.2" width="4.2" height="4.2" fill="#a8002a"/>
<text x="228.4" y="170.1" font-size="5.6" stroke="#1a1a1a" stroke-width="0.1">JunB</text>
<text x="228.4" y="179.3" font-size="5.6" stroke="#1a1a1a" stroke-width="0.1">GAPDH</text>
<text x="15.74" y="202.4" font-size="9.0" stroke="#1a1a1a" stroke-width="0.35" text-anchor="middle" textLength="48.5" lengthAdjust="spacingAndGlyphs" transform="rotate(-90 15.74 202.4)">Fold enrichment</text>
<line x1="308.9" y1="242.8" x2="308.9" y2="243.3" stroke="#222" stroke-width="0.9"/>
<line x1="306.4" y1="242.8" x2="311.4" y2="242.8" stroke="#111" stroke-width="0.9"/>
<rect x="304.4" y="243.3" width="9" height="0.7" fill="#a8002a"/>
<line x1="323.72" y1="221.5" x2="323.72" y2="224.2" stroke="#222" stroke-width="0.9"/>
<line x1="321.22" y1="221.5" x2="326.22" y2="221.5" stroke="#111" stroke-width="0.9"/>
<rect x="319.22" y="224.2" width="9" height="19.8" fill="#2e4a7e"/>
<line x1="338.54" y1="242.8" x2="338.54" y2="243.3" stroke="#222" stroke-width="0.9"/>
<line x1="336.04" y1="242.8" x2="341.04" y2="242.8" stroke="#111" stroke-width="0.9"/>
<rect x="334.04" y="243.3" width="9" height="0.7" fill="#a8002a"/>
<line x1="353.36" y1="214.7" x2="353.36" y2="219.2" stroke="#222" stroke-width="0.9"/>
<line x1="350.86" y1="214.7" x2="355.86" y2="214.7" stroke="#111" stroke-width="0.9"/>
<rect x="348.86" y="219.2" width="9" height="24.8" fill="#2e4a7e"/>
<line x1="368.18" y1="241.5" x2="368.18" y2="242.2" stroke="#222" stroke-width="0.9"/>
<line x1="365.68" y1="241.5" x2="370.68" y2="241.5" stroke="#111" stroke-width="0.9"/>
<rect x="363.68" y="242.2" width="9" height="1.8" fill="#a8002a"/>
<line x1="383" y1="196" x2="383" y2="196.9" stroke="#222" stroke-width="0.9"/>
<line x1="380.5" y1="196" x2="385.5" y2="196" stroke="#111" stroke-width="0.9"/>
<rect x="378.5" y="214.6" width="9" height="29.4" fill="#2e4a7e"/>
<rect x="378.5" y="196.9" width="9" height="12.8" fill="#2e4a7e"/>
<line x1="397.82" y1="240" x2="397.82" y2="241.2" stroke="#222" stroke-width="0.9"/>
<line x1="395.32" y1="240" x2="400.32" y2="240" stroke="#111" stroke-width="0.9"/>
<rect x="393.32" y="241.2" width="9" height="2.8" fill="#a8002a"/>
<line x1="412.64" y1="177.1" x2="412.64" y2="180" stroke="#222" stroke-width="0.9"/>
<line x1="410.14" y1="177.1" x2="415.14" y2="177.1" stroke="#111" stroke-width="0.9"/>
<rect x="408.14" y="214.6" width="9" height="29.4" fill="#2e4a7e"/>
<rect x="408.14" y="180" width="9" height="29.7" fill="#2e4a7e"/>
<line x1="427.46" y1="240" x2="427.46" y2="241.2" stroke="#222" stroke-width="0.9"/>
<line x1="424.96" y1="240" x2="429.96" y2="240" stroke="#111" stroke-width="0.9"/>
<rect x="422.96" y="241.2" width="9" height="2.8" fill="#a8002a"/>
<line x1="442.28" y1="192.5" x2="442.28" y2="194.75" stroke="#222" stroke-width="0.9"/>
<line x1="439.78" y1="192.5" x2="444.78" y2="192.5" stroke="#111" stroke-width="0.9"/>
<rect x="437.78" y="214.6" width="9" height="29.4" fill="#2e4a7e"/>
<rect x="437.78" y="194.75" width="9" height="14.95" fill="#2e4a7e"/>
<line x1="457.1" y1="242.7" x2="457.1" y2="243.5" stroke="#222" stroke-width="0.9"/>
<line x1="454.6" y1="242.7" x2="459.6" y2="242.7" stroke="#111" stroke-width="0.9"/>
<rect x="452.6" y="243.5" width="9" height="0.5" fill="#a8002a"/>
<line x1="471.92" y1="194.6" x2="471.92" y2="195.4" stroke="#222" stroke-width="0.9"/>
<line x1="469.42" y1="194.6" x2="474.42" y2="194.6" stroke="#111" stroke-width="0.9"/>
<rect x="467.42" y="214.6" width="9" height="29.4" fill="#2e4a7e"/>
<rect x="467.42" y="195.4" width="9" height="14.3" fill="#2e4a7e"/>
<line x1="486.74" y1="243.2" x2="486.74" y2="243.8" stroke="#222" stroke-width="0.9"/>
<line x1="484.24" y1="243.2" x2="489.24" y2="243.2" stroke="#111" stroke-width="0.9"/>
<rect x="482.24" y="243.8" width="9" height="0.2" fill="#a8002a"/>
<line x1="501.56" y1="205.25" x2="501.56" y2="206" stroke="#222" stroke-width="0.9"/>
<line x1="499.06" y1="205.25" x2="504.06" y2="205.25" stroke="#111" stroke-width="0.9"/>
<rect x="497.06" y="214.6" width="9" height="29.4" fill="#2e4a7e"/>
<rect x="497.06" y="206" width="9" height="3.7" fill="#2e4a7e"/>
<line x1="299.4" y1="162" x2="299.4" y2="209.7" stroke="#000" stroke-width="1.1"/>
<line x1="299.4" y1="214.6" x2="299.4" y2="244" stroke="#000" stroke-width="1.1"/>
<line x1="296.4" y1="209.7" x2="302.4" y2="209.7" stroke="#000" stroke-width="1.1"/>
<line x1="296.4" y1="214.6" x2="302.4" y2="214.6" stroke="#000" stroke-width="1.1"/>
<line x1="298.85" y1="244" x2="511.5" y2="244" stroke="#000" stroke-width="1.1"/>
<line x1="296.4" y1="165.3" x2="299.4" y2="165.3" stroke="#000" stroke-width="1.1"/>
<line x1="296.4" y1="177.4" x2="299.4" y2="177.4" stroke="#000" stroke-width="1.1"/>
<line x1="296.4" y1="189" x2="299.4" y2="189" stroke="#000" stroke-width="1.1"/>
<line x1="296.4" y1="201.3" x2="299.4" y2="201.3" stroke="#000" stroke-width="1.1"/>
<line x1="296.4" y1="220.1" x2="299.4" y2="220.1" stroke="#000" stroke-width="1.1"/>
<line x1="296.4" y1="232.2" x2="299.4" y2="232.2" stroke="#000" stroke-width="1.1"/>
<line x1="296.4" y1="244" x2="299.4" y2="244" stroke="#000" stroke-width="1.1"/>
<text transform="translate(293 167.6) scale(1.06 1)" font-size="6.4" stroke="#1a1a1a" stroke-width="0.1" text-anchor="end">400</text>
<text transform="translate(293 179.9) scale(1.06 1)" font-size="6.4" stroke="#1a1a1a" stroke-width="0.1" text-anchor="end">300</text>
<text transform="translate(293 193) scale(1.06 1)" font-size="6.4" stroke="#1a1a1a" stroke-width="0.1" text-anchor="end">200</text>
<text transform="translate(293 203.6) scale(1.06 1)" font-size="6.4" stroke="#1a1a1a" stroke-width="0.1" text-anchor="end">100</text>
<text transform="translate(293 222.8) scale(1.06 1)" font-size="6.4" stroke="#1a1a1a" stroke-width="0.1" text-anchor="end">20</text>
<text transform="translate(293 234.5) scale(1.06 1)" font-size="6.4" stroke="#1a1a1a" stroke-width="0.1" text-anchor="end">10</text>
<text transform="translate(293 246.3) scale(1.06 1)" font-size="6.4" stroke="#1a1a1a" stroke-width="0.1" text-anchor="end">0</text>
<line x1="308.9" y1="244" x2="308.9" y2="246.6" stroke="#000" stroke-width="0.9"/>
<text x="312.3" y="253" font-size="6.8" stroke="#1a1a1a" stroke-width="0.15" text-anchor="end" transform="rotate(-45 312.3 253)">GAPDH</text>
<line x1="323.72" y1="244" x2="323.72" y2="246.6" stroke="#000" stroke-width="0.9"/>
<text x="327.12" y="253" font-size="6.8" stroke="#1a1a1a" stroke-width="0.15" text-anchor="end" transform="rotate(-45 327.12 253)">BCWM.1</text>
<line x1="338.54" y1="244" x2="338.54" y2="246.6" stroke="#000" stroke-width="0.9"/>
<text x="341.94" y="253" font-size="6.8" stroke="#1a1a1a" stroke-width="0.15" text-anchor="end" transform="rotate(-45 341.94 253)">GAPDH</text>
<line x1="353.36" y1="244" x2="353.36" y2="246.6" stroke="#000" stroke-width="0.9"/>
<text x="356.76" y="253" font-size="6.8" stroke="#1a1a1a" stroke-width="0.15" text-anchor="end" transform="rotate(-45 356.76 253)">MWCL-1</text>
<line x1="368.18" y1="244" x2="368.18" y2="246.6" stroke="#000" stroke-width="0.9"/>
<text x="371.58" y="253" font-size="6.8" stroke="#1a1a1a" stroke-width="0.15" text-anchor="end" transform="rotate(-45 371.58 253)">GAPDH</text>
<line x1="383" y1="244" x2="383" y2="246.6" stroke="#000" stroke-width="0.9"/>
<text x="386.4" y="253" font-size="6.8" stroke="#1a1a1a" stroke-width="0.15" text-anchor="end" transform="rotate(-45 386.4 253)">TMD-8</text>
<line x1="397.82" y1="244" x2="397.82" y2="246.6" stroke="#000" stroke-width="0.9"/>
<text x="401.22" y="253" font-size="6.8" stroke="#1a1a1a" stroke-width="0.15" text-anchor="end" transform="rotate(-45 401.22 253)">GAPDH</text>
<line x1="412.64" y1="244" x2="412.64" y2="246.6" stroke="#000" stroke-width="0.9"/>
<text x="416.04" y="253" font-size="6.8" stroke="#1a1a1a" stroke-width="0.15" text-anchor="end" transform="rotate(-45 416.04 253)">HBL-1</text>
<line x1="427.46" y1="244" x2="427.46" y2="246.6" stroke="#000" stroke-width="0.9"/>
<text x="430.86" y="253" font-size="6.8" stroke="#1a1a1a" stroke-width="0.15" text-anchor="end" transform="rotate(-45 430.86 253)">GAPDH</text>
<line x1="442.28" y1="244" x2="442.28" y2="246.6" stroke="#000" stroke-width="0.9"/>
<text x="445.68" y="253" font-size="6.8" stroke="#1a1a1a" stroke-width="0.15" text-anchor="end" transform="rotate(-45 445.68 253)">OCI-Ly3</text>
<line x1="457.1" y1="244" x2="457.1" y2="246.6" stroke="#000" stroke-width="0.9"/>
<text x="460.5" y="253" font-size="6.8" stroke="#1a1a1a" stroke-width="0.15" text-anchor="end" transform="rotate(-45 460.5 253)">GAPDH</text>
<line x1="471.92" y1="244" x2="471.92" y2="246.6" stroke="#000" stroke-width="0.9"/>
<text x="475.32" y="253" font-size="6.8" stroke="#1a1a1a" stroke-width="0.15" text-anchor="end" transform="rotate(-45 475.32 253)">OCI-Ly7</text>
<line x1="486.74" y1="244" x2="486.74" y2="246.6" stroke="#000" stroke-width="0.9"/>
<text x="490.14" y="253" font-size="6.8" stroke="#1a1a1a" stroke-width="0.15" text-anchor="end" transform="rotate(-45 490.14 253)">GAPDH</text>
<line x1="501.56" y1="244" x2="501.56" y2="246.6" stroke="#000" stroke-width="0.9"/>
<text x="504.96" y="253" font-size="6.8" stroke="#1a1a1a" stroke-width="0.15" text-anchor="end" transform="rotate(-45 504.96 253)">OCI-Ly19</text>
<text x="405.3" y="157.1" font-size="8.7" text-anchor="middle" fill="#000" stroke="#000" stroke-width="0.15">c-Jun ChIP</text>
<rect x="473.1" y="166.1" width="4.2" height="4.2" fill="#2e4a7e"/>
<rect x="473.1" y="175.3" width="4.2" height="4.2" fill="#a8002a"/>
<text x="480.5" y="170.2" font-size="5.6" stroke="#1a1a1a" stroke-width="0.1">c-Jun</text>
<text x="480.5" y="179.4" font-size="5.6" stroke="#1a1a1a" stroke-width="0.1">GAPDH</text>
<text x="275.74" y="202.4" font-size="9.0" stroke="#1a1a1a" stroke-width="0.35" text-anchor="middle" textLength="48.5" lengthAdjust="spacingAndGlyphs" transform="rotate(-90 275.74 202.4)">Fold enrichment</text>
<rect x="0.5" y="0.5" width="519" height="281" fill="none" stroke="#000" stroke-width="1"/>
</svg>
</body></html>
